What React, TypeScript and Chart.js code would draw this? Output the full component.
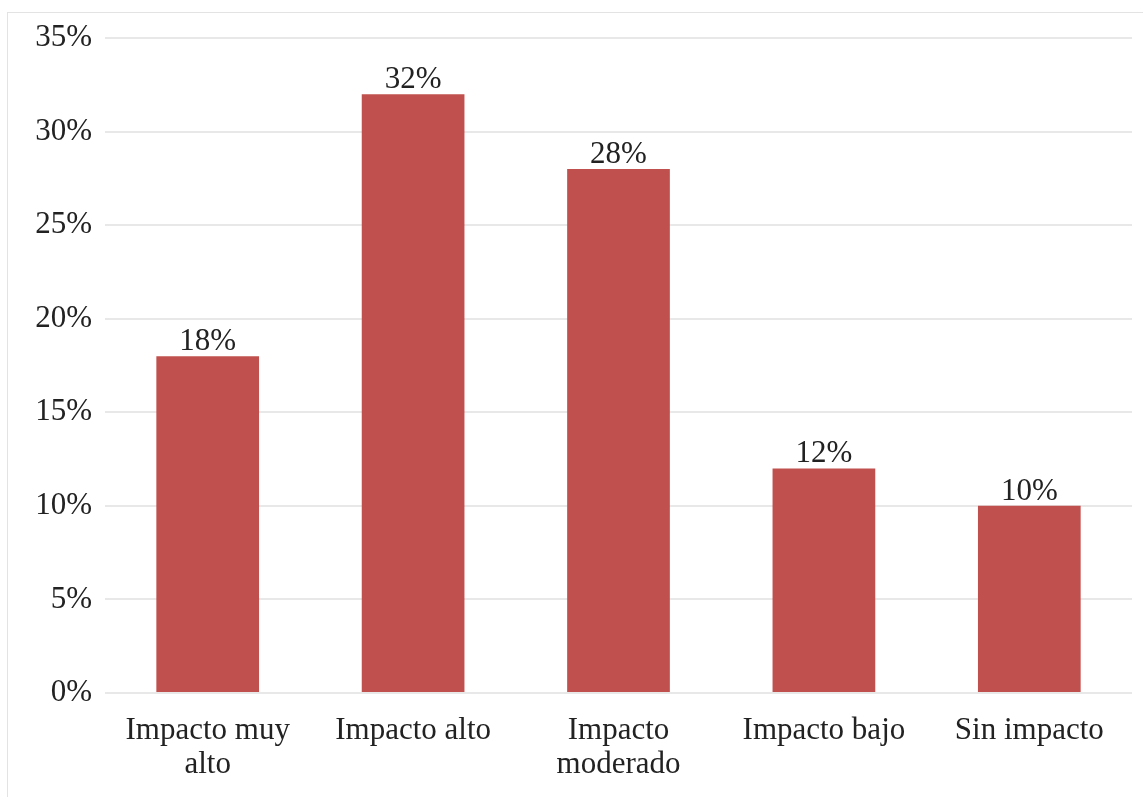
import React, { useEffect, useRef } from "react";
import { Chart, registerables } from "chart.js";

Chart.register(...registerables);

const categories: (string | string[])[] = [
  ["Impacto muy", "alto"],
  "Impacto alto",
  ["Impacto", "moderado"],
  "Impacto bajo",
  "Sin impacto",
];
const values: number[] = [18, 32, 28, 12, 10];
const yTicks: number[] = [0, 5, 10, 15, 20, 25, 30, 35];

const FONT = "'Liberation Serif', 'Times New Roman', serif";

const dataLabelPlugin = {
  id: "dataLabels",
  afterDatasetsDraw(chart: any) {
    const ctx = chart.ctx;
    const meta = chart.getDatasetMeta(0);
    ctx.save();
    ctx.font = `31px ${FONT}`;
    ctx.fillStyle = "#222";
    ctx.textAlign = "center";
    ctx.textBaseline = "alphabetic";
    meta.data.forEach((bar: any, i: number) => {
      ctx.fillText(`${values[i]}%`, bar.x, bar.y - 6);
    });
    ctx.restore();
  },
};

export default function App() {
  const ref = useRef<HTMLCanvasElement | null>(null);
  useEffect(() => {
    if (!ref.current) return;
    const chart = new Chart(ref.current, {
      type: "bar",
      data: {
        labels: categories,
        datasets: [
          {
            data: values,
            backgroundColor: "#C0504D",
            barPercentage: 0.5,
            categoryPercentage: 1,
          },
        ],
      },
      options: {
        animation: false,
        responsive: false,
        maintainAspectRatio: false,
        layout: { padding: { left: 0, top: 38, right: 11, bottom: 0 } },
        plugins: { legend: { display: false }, tooltip: { enabled: false } },
        scales: {
          x: {
            grid: { display: false, drawTicks: false },
            border: { display: false },
            ticks: {
              color: "#222",
              font: { family: FONT, size: 31, lineHeight: 1.12 },
              padding: 20,
              maxRotation: 0,
              autoSkip: false,
            },
            afterFit: (s: any) => {
              s.height = 104;
            },
          },
          y: {
            min: 0,
            max: 35,
            afterBuildTicks: (s: any) => {
              s.ticks = yTicks.map((v) => ({ value: v }));
            },
            grid: { color: "#e8e8e8", lineWidth: 2, drawTicks: false },
            border: { display: false },
            ticks: {
              color: "#222",
              font: { family: FONT, size: 31 },
              padding: 13,
              callback: (v: any) => `${v}%`,
            },
            afterFit: (s: any) => {
              s.width = 105;
            },
          },
        },
      },
      plugins: [dataLabelPlugin],
    });
    return () => chart.destroy();
  }, []);

  return (
    <div
      style={{
        position: "fixed",
        left: 0,
        top: 0,
        width: 1143,
        height: 797,
        overflow: "hidden",
        background: "#fff",
      }}
    >
      <div
        style={{
          position: "absolute",
          left: 7,
          top: 12,
          width: 2000,
          height: 2000,
          border: "1px solid #e3e3e3",
        }}
      />
      <canvas
        ref={ref}
        width={1143}
        height={797}
        style={{ position: "absolute", left: 0, top: 0, width: 1143, height: 797 }}
      />
    </div>
  );
}
